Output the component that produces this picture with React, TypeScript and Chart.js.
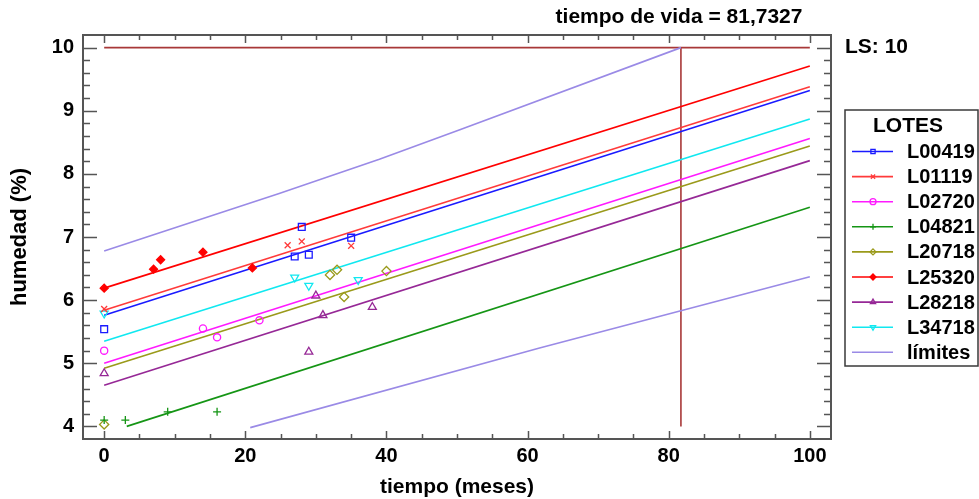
import React, { useEffect, useRef } from 'react';
import { Chart, registerables } from 'chart.js';

Chart.register(...registerables);

// ---------- data ----------
const CHART_TITLE = 'tiempo de vida = 81,7327';
const X_TITLE = 'tiempo (meses)';
const Y_TITLE = 'humedad (%)';
const LEGEND_TITLE = 'LOTES';
const LIMITS_LABEL = 'límites';
const LS_LABEL = 'LS: 10';
const LS_VALUE = 10;
const SHELF_LIFE = 81.7327;
const LS_LINE_T = [0, 100];
const SHELF_LINE_H = [10, 4];

const X_TICKS = [0, 20, 40, 60, 80, 100];
const Y_TICKS = [4, 5, 6, 7, 8, 9, 10];

const LOT_NAMES = ['L00419', 'L01119', 'L02720', 'L04821', 'L20718', 'L25320', 'L28218', 'L34718'];

const L00419_T = [0, 27, 28, 29, 35];
const L00419_H = [5.54, 6.69, 7.16, 6.72, 6.99];
const L00419_FIT_T = [0, 100];
const L00419_FIT_H = [5.76, 9.32];

const L01119_T = [0, 26, 28, 35];
const L01119_H = [5.86, 6.87, 6.93, 6.86];
const L01119_FIT_T = [0, 100];
const L01119_FIT_H = [5.84, 9.38];

const L02720_T = [0, 14, 16, 22];
const L02720_H = [5.2, 5.55, 5.41, 5.68];
const L02720_FIT_T = [0, 100];
const L02720_FIT_H = [5.0, 8.56];

const L04821_T = [0, 3, 9, 16];
const L04821_H = [4.1, 4.1, 4.23, 4.23];
const L04821_FIT_T = [3.2, 100];
const L04821_FIT_H = [4.0, 7.47];

const L20718_T = [0, 32, 33, 34, 40];
const L20718_H = [4.03, 6.4, 6.48, 6.05, 6.46];
const L20718_FIT_T = [0, 100];
const L20718_FIT_H = [4.92, 8.44];

const L25320_T = [0, 7, 8, 14, 21];
const L25320_H = [6.19, 6.49, 6.64, 6.76, 6.51];
const L25320_FIT_T = [0, 100];
const L25320_FIT_H = [6.19, 9.71];

const L28218_T = [0, 29, 30, 31, 38];
const L28218_H = [4.84, 5.18, 6.07, 5.76, 5.89];
const L28218_FIT_T = [0, 100];
const L28218_FIT_H = [4.65, 8.21];

const L34718_T = [0, 27, 29, 36];
const L34718_H = [5.79, 6.36, 6.23, 6.32];
const L34718_FIT_T = [0, 100];
const L34718_FIT_H = [5.35, 8.87];

const UPPER_T = [0, 24.8, 39, 50.4, 81.7327];
const UPPER_H = [6.78, 7.69, 8.23, 8.7, 10];
const LOWER_T = [20.7, 61.7, 100];
const LOWER_H = [3.98, 5.24, 6.37];

// ---------- styles ----------
const FONT = '"Liberation Sans", Arial, sans-serif';
const LIMIT_COLOR = '#9a8ae6';
const LS_COLOR = '#a83838';
const FRAME_COLOR = '#555555';

type MarkerStyle = { color: string; style: string; radius: number; rotation: number; filled: boolean };
const LOT_STYLES: MarkerStyle[] = [
  { color: '#1a1aff', style: 'rect', radius: 4.8, rotation: 0, filled: false },
  { color: '#ff3a3a', style: 'crossRot', radius: 4.2, rotation: 0, filled: false },
  { color: '#ff1aff', style: 'circle', radius: 3.6, rotation: 0, filled: false },
  { color: '#159515', style: 'cross', radius: 4, rotation: 0, filled: false },
  { color: '#9a9a1a', style: 'rectRot', radius: 4.6, rotation: 0, filled: false },
  { color: '#ff0000', style: 'rectRot', radius: 4, rotation: 0, filled: true },
  { color: '#962896', style: 'triangle', radius: 4.6, rotation: 0, filled: false },
  { color: '#10e8f0', style: 'triangle', radius: 4.6, rotation: 180, filled: false },
];

const LOT_POINTS = [
  [L00419_T, L00419_H], [L01119_T, L01119_H], [L02720_T, L02720_H], [L04821_T, L04821_H],
  [L20718_T, L20718_H], [L25320_T, L25320_H], [L28218_T, L28218_H], [L34718_T, L34718_H],
];
const LOT_FITS = [
  [L00419_FIT_T, L00419_FIT_H], [L01119_FIT_T, L01119_FIT_H], [L02720_FIT_T, L02720_FIT_H], [L04821_FIT_T, L04821_FIT_H],
  [L20718_FIT_T, L20718_FIT_H], [L25320_FIT_T, L25320_FIT_H], [L28218_FIT_T, L28218_FIT_H], [L34718_FIT_T, L34718_FIT_H],
];

const zip = (xs: number[], ys: number[]) => xs.map((x, i) => ({ x, y: ys[i] }));

function drawMarker(ctx: CanvasRenderingContext2D, m: MarkerStyle, x: number, y: number, r: number) {
  ctx.save();
  ctx.strokeStyle = m.color;
  ctx.fillStyle = m.color;
  ctx.lineWidth = 1.3;
  ctx.beginPath();
  if (m.style === 'rect') {
    const s = r * Math.SQRT1_2;
    ctx.rect(x - s, y - s, 2 * s, 2 * s);
  } else if (m.style === 'crossRot') {
    const d = r * Math.SQRT1_2;
    ctx.moveTo(x - d, y - d); ctx.lineTo(x + d, y + d);
    ctx.moveTo(x - d, y + d); ctx.lineTo(x + d, y - d);
  } else if (m.style === 'circle') {
    ctx.arc(x, y, r, 0, Math.PI * 2);
  } else if (m.style === 'cross') {
    ctx.moveTo(x, y - r); ctx.lineTo(x, y + r);
    ctx.moveTo(x - r, y); ctx.lineTo(x + r, y);
  } else if (m.style === 'rectRot') {
    ctx.moveTo(x, y - r); ctx.lineTo(x + r, y); ctx.lineTo(x, y + r); ctx.lineTo(x - r, y); ctx.closePath();
  } else if (m.style === 'triangle') {
    const dir = m.rotation === 180 ? -1 : 1;
    ctx.moveTo(x, y - dir * r);
    ctx.lineTo(x + r * 0.866, y + dir * r * 0.5);
    ctx.lineTo(x - r * 0.866, y + dir * r * 0.5);
    ctx.closePath();
  }
  if (m.filled) ctx.fill();
  ctx.stroke();
  ctx.restore();
}

const framePlugin = {
  id: 'frameAndDecor',
  afterDraw(chart: any) {
    const { ctx, chartArea: a, scales } = chart;
    const xs = scales.x;
    const ys = scales.y;
    ctx.save();
    // ticks
    ctx.strokeStyle = FRAME_COLOR;
    ctx.lineWidth = 1.5;
    ctx.beginPath();
    for (let v = 0; v <= 100.001; v += 5) {
      const px = Math.round(xs.getPixelForValue(v)) + 0.5;
      const len = Math.abs(v % 20) < 0.01 ? 8 : 5;
      ctx.moveTo(px, a.bottom); ctx.lineTo(px, a.bottom - len);
      ctx.moveTo(px, a.top); ctx.lineTo(px, a.top + len);
    }
    for (let k = 20; k <= 50; k++) {
      const v = k / 5;
      const py = Math.round(ys.getPixelForValue(v)) + 0.5;
      const len = k % 5 === 0 ? 14 : 7;
      ctx.moveTo(a.left, py); ctx.lineTo(a.left + len, py);
      ctx.moveTo(a.right, py); ctx.lineTo(a.right - len, py);
    }
    ctx.stroke();
    // frame
    ctx.lineWidth = 2;
    ctx.strokeRect(a.left, a.top, a.right - a.left, a.bottom - a.top);

    // title
    ctx.fillStyle = '#000';
    ctx.font = `bold 21px ${FONT}`;
    ctx.textAlign = 'center';
    ctx.textBaseline = 'middle';
    ctx.fillText(CHART_TITLE, 679, 17);

    // LS label
    ctx.textAlign = 'left';
    ctx.fillText(LS_LABEL, 845, ys.getPixelForValue(LS_VALUE));

    // legend box
    ctx.strokeStyle = '#3a3a3a';
    ctx.lineWidth = 1.5;
    ctx.strokeRect(845, 110, 133, 256);
    ctx.textAlign = 'center';
    ctx.fillText(LEGEND_TITLE, 908, 126);
    ctx.font = `bold 20px ${FONT}`;
    const entries = LOT_NAMES.map((n, i) => ({ name: n, m: LOT_STYLES[i] as MarkerStyle | null, color: LOT_STYLES[i].color }));
    entries.push({ name: LIMITS_LABEL, m: null, color: LIMIT_COLOR });
    entries.forEach((e, i) => {
      const y = 151.5 + i * 25.1;
      ctx.strokeStyle = e.color;
      ctx.lineWidth = 1.6;
      ctx.beginPath();
      ctx.moveTo(852, y); ctx.lineTo(893, y);
      ctx.stroke();
      if (e.m) drawMarker(ctx, e.m, 873, y, 3);
      ctx.fillStyle = '#000';
      ctx.textAlign = 'left';
      ctx.fillText(e.name, 907, y + 1);
    });
    ctx.restore();
  },
};

export default function App() {
  const ref = useRef<HTMLCanvasElement | null>(null);
  useEffect(() => {
    if (!ref.current) return;
    const pointSets: any[] = LOT_NAMES.map((name, i) => {
      const s = LOT_STYLES[i];
      return {
        label: name,
        data: zip(LOT_POINTS[i][0], LOT_POINTS[i][1]),
        showLine: false,
        pointStyle: s.style,
        pointRotation: s.rotation,
        pointRadius: s.radius,
        pointBorderWidth: 1.3,
        borderColor: s.color,
        backgroundColor: s.filled ? s.color : 'rgba(0,0,0,0)',
      };
    });
    const fitSets: any[] = LOT_NAMES.map((name, i) => ({
      label: name + ' ajuste',
      data: zip(LOT_FITS[i][0], LOT_FITS[i][1]),
      showLine: true,
      pointRadius: 0,
      borderWidth: 1.6,
      borderColor: LOT_STYLES[i].color,
      backgroundColor: LOT_STYLES[i].color,
    }));
    const extraSets: any[] = [
      { label: LIMITS_LABEL, data: zip(UPPER_T, UPPER_H), showLine: true, pointRadius: 0, borderWidth: 1.6, borderColor: LIMIT_COLOR },
      { label: LIMITS_LABEL + ' inf', data: zip(LOWER_T, LOWER_H), showLine: true, pointRadius: 0, borderWidth: 1.6, borderColor: LIMIT_COLOR },
      { label: 'LS', data: zip(LS_LINE_T, [LS_VALUE, LS_VALUE]), showLine: true, pointRadius: 0, borderWidth: 1.6, borderColor: LS_COLOR },
      { label: 'vida', data: zip([SHELF_LIFE, SHELF_LIFE], SHELF_LINE_H), showLine: true, pointRadius: 0, borderWidth: 1.6, borderColor: LS_COLOR },
    ];
    const tickFont = { family: FONT, size: 20, weight: 'bold' as const, lineHeight: 1.2 };
    const titleFont = { family: FONT, size: 21, weight: 'bold' as const, lineHeight: 1 };
    const chart = new Chart(ref.current, {
      type: 'scatter',
      data: { datasets: [...pointSets, ...fitSets, ...extraSets] },
      options: {
        responsive: false,
        animation: false,
        devicePixelRatio: 1,
        layout: { padding: { left: 0, top: 35, right: 148, bottom: 0 } },
        plugins: { legend: { display: false }, tooltip: { enabled: false }, title: { display: false } },
        elements: { line: { tension: 0 } },
        scales: {
          x: {
            type: 'linear',
            min: -3,
            max: 103,
            grid: { display: false, drawTicks: false },
            border: { display: false },
            afterBuildTicks: (s: any) => { s.ticks = X_TICKS.map((v) => ({ value: v })); },
            afterFit: (s: any) => { s.height = 60; },
            ticks: { color: '#000', font: tickFont, padding: 5.5, maxRotation: 0, autoSkip: false },
            title: { display: true, text: X_TITLE, color: '#000', font: titleFont, padding: { top: 0, bottom: 1 } },
          },
          y: {
            type: 'linear',
            min: 3.8,
            max: 10.2,
            grid: { display: false, drawTicks: false },
            border: { display: false },
            afterBuildTicks: (s: any) => { s.ticks = Y_TICKS.map((v) => ({ value: v })); },
            afterFit: (s: any) => { s.width = 83; },
            ticks: { color: '#000', font: tickFont, padding: 9, autoSkip: false },
            title: { display: true, text: Y_TITLE, color: '#000', font: { ...titleFont, size: 22 }, padding: { top: 9, bottom: 0 } },
          },
        },
      },
      plugins: [framePlugin],
    });
    return () => chart.destroy();
  }, []);
  return (
    <div style={{ position: 'fixed', left: 0, top: 0, width: 979, height: 499, background: '#fff' }}>
      <canvas ref={ref} width={979} height={499} style={{ display: 'block' }} />
    </div>
  );
}
